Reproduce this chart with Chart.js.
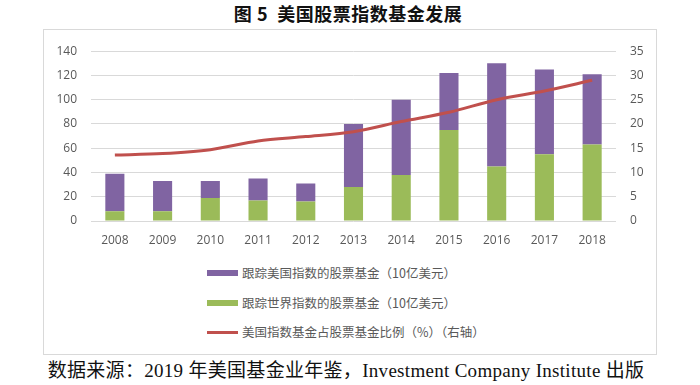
<!DOCTYPE html>
<html>
<head>
<meta charset="utf-8">
<script src="https://cdn.jsdelivr.net/npm/chart.js@4.4.0/dist/chart.umd.min.js"></script>
<style>
  html, body { margin: 0; padding: 0; background: #fff; }
  body { width: 700px; height: 385px; position: relative; overflow: hidden; }
  #title {
    position: absolute; left: 0; width: 696px; top: 0px; text-align: center;
    font: bold 18px "Noto Sans CJK SC", sans-serif; color: #111; letter-spacing: 0.5px;
  }
  #box {
    position: absolute; left: 43px; top: 29px; width: 612px; height: 324px;
    border: 1px solid #d9d9d9;
  }
  #chart { position: absolute; left: 0; top: 0; }
  #legend { position: absolute; left: 163px; top: 233px; }
  .lg-row { position: absolute; left: 0; height: 20px; width: 300px; }
  .lg-sw { position: absolute; left: 0; width: 31px; }
  .lg-tx {
    position: absolute; left: 35px; top: 0; line-height: 20px; white-space: nowrap;
    font: 12.5px "Noto Sans CJK SC", sans-serif; color: #595959;
  }
  #source {
    position: absolute; left: 0; width: 692px; top: 355px; text-align: center;
    font: 19px "Liberation Serif", "Noto Sans CJK SC", serif; color: #111; letter-spacing: 0.3px;
  }
</style>
</head>
<body>
<div id="title">图 5&nbsp;&nbsp;美国股票指数基金发展</div>
<div id="box">
  <canvas id="chart" width="612" height="222"></canvas>
  <div id="legend"></div>
</div>
<div id="source">数据来源：2019 年美国基金业年鉴，Investment Company Institute 出版</div>

<script>
// 数据
const years = ['2008', '2009', '2010', '2011', '2012', '2013', '2014', '2015', '2016', '2017', '2018'];
const usIndexFunds = [31, 25, 14, 18, 15, 52, 62, 47, 85, 70, 58];     // 跟踪美国指数，10亿美元
const worldIndexFunds = [8, 8, 19, 17, 16, 28, 38, 75, 45, 55, 63];    // 跟踪世界指数，10亿美元
const usIndexShare = [13.6, 13.9, 14.7, 16.5, 17.4, 18.4, 20.5, 22.4, 25.0, 26.8, 29.0]; // %，右轴

const leftTicks = [0, 20, 40, 60, 80, 100, 120, 140];
const rightTicks = [0, 5, 10, 15, 20, 25, 30, 35];

const LABEL_US = '跟踪美国指数的股票基金（10亿美元）';
const LABEL_WORLD = '跟踪世界指数的股票基金（10亿美元）';
const LABEL_SHARE = '美国指数基金占股票基金比例（%）（右轴）';

const COLORS = { us: '#8064A2', world: '#9BBB59', share: '#C0504D' };

const tickFont = { family: '"Open Sans", sans-serif', size: 12 };
const tickColor = '#595959';

const ctx = document.getElementById('chart').getContext('2d');

const chart = new Chart(ctx, {
  type: 'bar',
  data: {
    labels: years,
    datasets: [
      {
        type: 'line', label: LABEL_SHARE, data: usIndexShare, yAxisID: 'y2',
        borderColor: COLORS.share, borderWidth: 3, pointRadius: 0,
        tension: 0.3, fill: false, order: 0
      },
      // 绿色在下，紫色叠在上面
      {
        label: LABEL_WORLD, data: worldIndexFunds, backgroundColor: COLORS.world,
        stack: 's', yAxisID: 'y', order: 1, barPercentage: 0.4, categoryPercentage: 1
      },
      {
        label: LABEL_US, data: usIndexFunds, backgroundColor: COLORS.us,
        stack: 's', yAxisID: 'y', order: 1, barPercentage: 0.4, categoryPercentage: 1
      }
    ]
  },
  options: {
    responsive: false,
    animation: false,
    layout: { padding: { top: 20, left: 0, right: 0, bottom: 0 } },
    plugins: { legend: { display: false }, tooltip: { enabled: false } },
    scales: {
      x: {
        stacked: true,
        grid: { display: false, drawTicks: false },
        border: { display: false },
        ticks: { color: tickColor, font: tickFont, padding: 12 },
        afterFit: s => { s.height = 31; }
      },
      y: {
        position: 'left', stacked: true, min: 0, max: 140,
        afterBuildTicks: s => { s.ticks = leftTicks.map(v => ({ value: v })); },
        grid: { color: '#d9d9d9', lineWidth: 1, drawTicks: false },
        border: { display: false },
        ticks: { color: tickColor, font: tickFont, padding: 14 },
        afterFit: s => { s.width = 47; }
      },
      y2: {
        position: 'right', min: 0, max: 35,
        afterBuildTicks: s => { s.ticks = rightTicks.map(v => ({ value: v })); },
        grid: { display: false, drawTicks: false },
        border: { display: false },
        ticks: { color: tickColor, font: tickFont, padding: 14 },
        afterFit: s => { s.width = 40; }
      }
    }
  }
});

// 图例：纵向排列，手工生成
const legendItems = [
  { text: LABEL_US, color: COLORS.us, h: 6 },
  { text: LABEL_WORLD, color: COLORS.world, h: 6 },
  { text: LABEL_SHARE, color: COLORS.share, h: 3 }
];
const rowTops = [0, 30, 59];
const legend = document.getElementById('legend');
legendItems.forEach((it, i) => {
  const row = document.createElement('div');
  row.className = 'lg-row';
  row.style.top = rowTops[i] + 'px';
  row.innerHTML = `<div class="lg-sw" style="background:${it.color};height:${it.h}px;top:${10 - it.h / 2}px"></div>
    <div class="lg-tx">${it.text}</div>`;
  legend.appendChild(row);
});
</script>
</body>
</html>
